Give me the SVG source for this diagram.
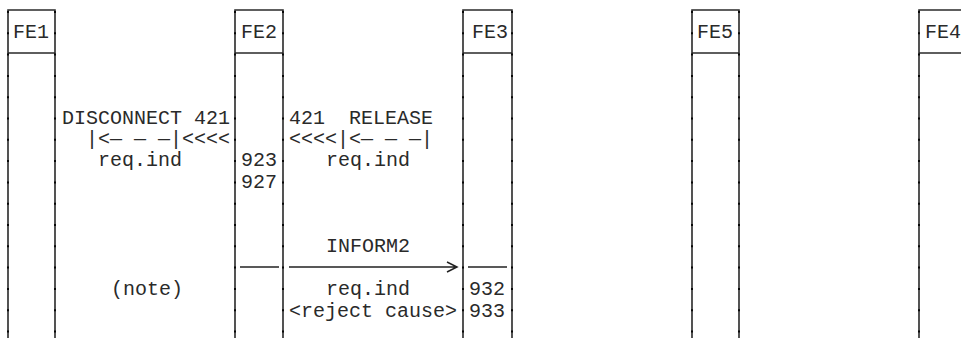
<svg xmlns="http://www.w3.org/2000/svg" width="961" height="338" viewBox="0 0 961 338">
  <style>
    .frame { fill: none; stroke: #2a2a2a; stroke-width: 1.6; }
    .tick { fill: none; stroke: #000; stroke-width: 1.8; stroke-dasharray: 2 19.3; }
    .lbl { font-family: "Liberation Mono", "DejaVu Sans Mono", monospace; font-size: 20px; fill: #2a2a2a; white-space: pre; }
    .conn { fill: none; stroke: #222; stroke-width: 1.5; }
  </style>
  <rect width="961" height="338" fill="#fff"/>

  <!-- functional entities: header box with lifeline columns running to the bottom edge -->
  <g id="FE1">
    <path class="frame" d="M8,338 V10 H55 V338 M8,53 H55"/>
    <path class="tick" d="M8,11 V338 M55,11 V338"/>
    <text class="lbl" x="13" y="38">FE1</text>
  </g>
  <g id="FE2">
    <path class="frame" d="M235,338 V10 H283 V338 M235,53 H283"/>
    <path class="tick" d="M235,11 V338 M283,11 V338"/>
    <text class="lbl" x="241" y="38">FE2</text>
    <text class="lbl" x="241" y="166">923</text>
    <text class="lbl" x="241" y="188">927</text>
  </g>
  <g id="FE3">
    <path class="frame" d="M463,338 V10 H512 V338 M463,53 H512"/>
    <path class="tick" d="M463,11 V338 M512,11 V338"/>
    <text class="lbl" x="472" y="38">FE3</text>
    <text class="lbl" x="469" y="295">932</text>
    <text class="lbl" x="469" y="317">933</text>
  </g>
  <g id="FE5">
    <path class="frame" d="M692,338 V10 H739 V338 M692,53 H739"/>
    <path class="tick" d="M692,11 V338 M739,11 V338"/>
    <text class="lbl" x="697" y="38">FE5</text>
  </g>
  <g id="FE4">
    <path class="frame" d="M919,338 V10 H962 M919,53 H962"/>
    <path class="tick" d="M919,11 V338"/>
    <text class="lbl" x="925" y="38">FE4</text>
  </g>

  <!-- message texts -->
  <g id="messages">
    <text class="lbl" x="62" y="124">DISCONNECT 421</text>
    <text class="lbl" x="86" y="145">|&lt;— — —|&lt;&lt;&lt;&lt;</text>
    <text class="lbl" x="98" y="166">req.ind</text>

    <text class="lbl" x="289" y="124">421  RELEASE</text>
    <text class="lbl" x="289" y="145">&lt;&lt;&lt;&lt;|&lt;— — —|</text>
    <text class="lbl" x="326" y="166">req.ind</text>

    <text class="lbl" x="326" y="252">INFORM2</text>
    <text class="lbl" x="326" y="295">req.ind</text>
    <text class="lbl" x="289" y="317">&lt;reject cause&gt;</text>

    <text class="lbl" x="111" y="295">(note)</text>
  </g>

  <!-- connectors -->
  <g id="connectors">
    <path class="conn" d="M240,267 H279"/>
    <path class="conn" d="M289,267 H457 M447,262 L457,267 L447,272"/>
    <path class="conn" d="M468,267 H507"/>
  </g>
</svg>
